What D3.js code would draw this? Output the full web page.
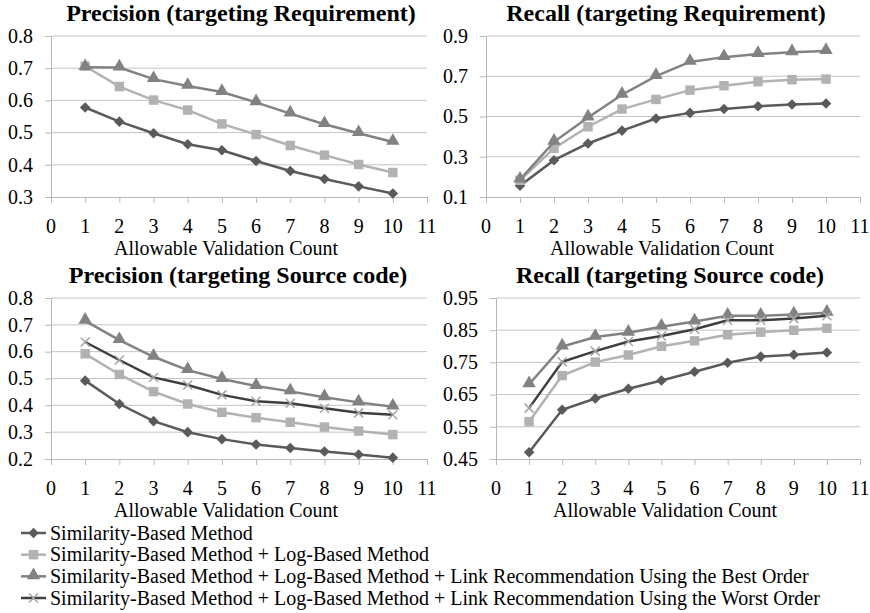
<!DOCTYPE html>
<html>
<head>
<meta charset="utf-8">
<script src="https://cdn.jsdelivr.net/npm/d3@7"></script>
<style>
  body { margin: 0; background: #fff; }
  svg text { font-family: "Liberation Serif", "Times New Roman", Times, serif; }
</style>
</head>
<body>
<svg id="chart" width="870" height="613"></svg>
<script>
// x values and ticks
var counts = [1, 2, 3, 4, 5, 6, 7, 8, 9, 10];
var xTicks = [0, 1, 2, 3, 4, 5, 6, 7, 8, 9, 10, 11];

// Precision (targeting Requirement)
var precReqSim  = [0.578, 0.534, 0.498, 0.464, 0.445, 0.412, 0.381, 0.356, 0.333, 0.311];
var precReqLog  = [0.706, 0.643, 0.601, 0.570, 0.527, 0.494, 0.460, 0.430, 0.401, 0.376];
var precReqBest = [0.703, 0.702, 0.666, 0.645, 0.626, 0.594, 0.559, 0.526, 0.498, 0.471];
var precReqTicks = [0.3, 0.4, 0.5, 0.6, 0.7, 0.8];

// Recall (targeting Requirement)
var recReqSim  = [0.156, 0.283, 0.366, 0.430, 0.490, 0.518, 0.537, 0.551, 0.560, 0.565];
var recReqLog  = [0.183, 0.342, 0.449, 0.537, 0.585, 0.631, 0.653, 0.673, 0.683, 0.686];
var recReqBest = [0.186, 0.374, 0.495, 0.608, 0.701, 0.771, 0.795, 0.810, 0.819, 0.825];
var recReqTicks = [0.1, 0.3, 0.5, 0.7, 0.9];

// Precision (targeting Source code)
var precSrcSim   = [0.492, 0.405, 0.341, 0.300, 0.274, 0.254, 0.241, 0.228, 0.217, 0.205];
var precSrcLog   = [0.592, 0.515, 0.451, 0.405, 0.374, 0.354, 0.337, 0.319, 0.304, 0.291];
var precSrcBest  = [0.715, 0.643, 0.581, 0.531, 0.498, 0.472, 0.452, 0.430, 0.411, 0.395];
var precSrcWorst = [0.636, 0.569, 0.504, 0.476, 0.439, 0.415, 0.408, 0.389, 0.372, 0.365];
var precSrcTicks = [0.2, 0.3, 0.4, 0.5, 0.6, 0.7, 0.8];

// Recall (targeting Source code)
var recSrcSim   = [0.471, 0.603, 0.638, 0.668, 0.694, 0.721, 0.749, 0.768, 0.774, 0.781];
var recSrcLog   = [0.566, 0.709, 0.751, 0.773, 0.800, 0.817, 0.836, 0.844, 0.850, 0.856];
var recSrcBest  = [0.682, 0.799, 0.829, 0.842, 0.861, 0.877, 0.895, 0.895, 0.899, 0.904];
var recSrcWorst = [0.608, 0.752, 0.785, 0.815, 0.832, 0.853, 0.881, 0.881, 0.886, 0.895];
var recSrcTicks = [0.45, 0.55, 0.65, 0.75, 0.85, 0.95];

var seriesNames = [
  "Similarity-Based Method",
  "Similarity-Based Method + Log-Based Method",
  "Similarity-Based Method + Log-Based Method + Link Recommendation Using the Best Order",
  "Similarity-Based Method + Log-Based Method + Link Recommendation Using the Worst Order"
];

var styles = [
  { line: "#5a5a5a", mark: "#5a5a5a", shape: "diamond" },
  { line: "#b2b2b2", mark: "#b2b2b2", shape: "square" },
  { line: "#828282", mark: "#828282", shape: "triangle" },
  { line: "#3e3e3e", mark: "#a4a4a4", shape: "cross" }
];

var FONT = "Liberation Serif";
var AXIS_GRAY = "#b8b8b8";

var svg = d3.select("#chart");

var panels = [
  { title: "Precision (targeting Requirement)", series: [precReqSim, precReqLog, precReqBest], ticks: precReqTicks,
    x0: 51, x1: 427, y0: 36, y1: 197, titleX: 241, titleY: 21, axisTitleX: 226 },
  { title: "Recall (targeting Requirement)", series: [recReqSim, recReqLog, recReqBest], ticks: recReqTicks,
    x0: 486, x1: 860, y0: 36, y1: 197, titleX: 666, titleY: 21, axisTitleX: 662 },
  { title: "Precision (targeting Source code)", series: [precSrcSim, precSrcLog, precSrcBest, precSrcWorst], ticks: precSrcTicks,
    x0: 51, x1: 427, y0: 298, y1: 459, titleX: 238, titleY: 283, axisTitleX: 226 },
  { title: "Recall (targeting Source code)", series: [recSrcSim, recSrcLog, recSrcBest, recSrcWorst], ticks: recSrcTicks,
    x0: 496, x1: 860, y0: 298, y1: 459, titleX: 670, titleY: 283, axisTitleX: 665 }
];

function drawMarks(g, pts, st) {
  var m = g.selectAll(null).data(pts).enter().append("g")
    .attr("transform", function(d) { return "translate(" + d[0] + "," + d[1] + ")"; });
  if (st.shape === "diamond") {
    m.append("path").attr("d", d3.symbol(d3.symbolSquare, 56)()).attr("transform", "rotate(45)").attr("fill", st.mark);
  } else if (st.shape === "square") {
    m.append("path").attr("d", d3.symbol(d3.symbolSquare, 90)()).attr("fill", st.mark);
  } else if (st.shape === "triangle") {
    m.append("path").attr("d", d3.symbol(d3.symbolTriangle, 78)()).attr("transform", "translate(0,-1)").attr("fill", st.mark);
  } else {
    m.append("path").attr("d", "M-4.5,-4.5L4.5,4.5M-4.5,4.5L4.5,-4.5")
      .attr("stroke", st.mark).attr("stroke-width", 1.5).attr("fill", "none");
  }
}

// serif text helper
function label(sel, x, y, str, size) {
  return sel.append("text").attr("x", x).attr("y", y)
    .style("font-family", FONT).attr("font-size", size).text(str);
}

panels.forEach(function(p) {
  var x = d3.scaleLinear().domain([0, 11]).range([p.x0, p.x1]);
  var y = d3.scaleLinear().domain([p.ticks[0], p.ticks[p.ticks.length - 1]]).range([p.y1, p.y0]);
  var g = svg.append("g");

  // gridlines
  g.append("g")
    .selectAll("line").data(p.ticks.slice(1)).enter().append("line")
    .attr("x1", p.x0).attr("x2", p.x1)
    .attr("y1", function(d) { return y(d); }).attr("y2", function(d) { return y(d); })
    .attr("stroke", "#c4c4c4");

  // y axis: line + tick marks, labels drawn separately
  var ya = g.append("g")
    .attr("transform", `translate(${p.x0},0)`)
    .call(d3.axisLeft(y).tickValues(p.ticks).tickSize(6).tickSizeOuter(0).tickFormat(""));
  ya.select(".domain").attr("stroke", AXIS_GRAY);
  ya.selectAll(".tick line").attr("stroke", AXIS_GRAY);
  p.ticks.forEach(function(t) {
    label(g, p.x0 - 18, y(t), String(t), 20).attr("text-anchor", "end").attr("dy", "0.34em");
  });

  // x axis
  var xa = g.append("g")
    .attr("transform", `translate(0,${p.y1})`)
    .call(d3.axisBottom(x).tickValues(xTicks).tickSize(6).tickSizeOuter(0).tickFormat(""));
  xa.select(".domain").attr("stroke", AXIS_GRAY);
  xa.selectAll(".tick line").attr("stroke", AXIS_GRAY);
  xTicks.forEach(function(t) {
    label(g, x(t), p.y1 + 36, String(t), 20).attr("text-anchor", "middle");
  });

  // titles
  label(g, p.titleX, p.titleY, p.title, 24)
    .attr("text-anchor", "middle").attr("font-weight", "bold");
  label(g, p.axisTitleX, p.y1 + 58, "Allowable Validation Count", 20)
    .attr("text-anchor", "middle");

  // series
  var line = d3.line()
    .x(function(d, i) { return x(counts[i]); })
    .y(function(d) { return y(d); });

  p.series.forEach(function(vals, si) {
    var st = styles[si];
    g.append("path").datum(vals)
      .attr("d", line).attr("fill", "none")
      .attr("stroke", st.line).attr("stroke-width", 2.5);
    drawMarks(g, vals.map(function(v, i) { return [x(counts[i]), y(v)]; }), st);
  });
});

// legend
var legendY = d3.scalePoint().domain(seriesNames).range([533, 598]);
seriesNames.forEach(function(name, i) {
  var st = styles[i];
  var ly = legendY(name);
  var lg = svg.append("g");
  lg.append("line").attr("x1", 21).attr("x2", 46).attr("y1", ly).attr("y2", ly)
    .attr("stroke", st.line).attr("stroke-width", 2.5);
  drawMarks(lg, [[33.5, ly]], st);
  label(lg, 50, ly, name, 20).attr("dy", "0.33em");
});
</script>
</body>
</html>
